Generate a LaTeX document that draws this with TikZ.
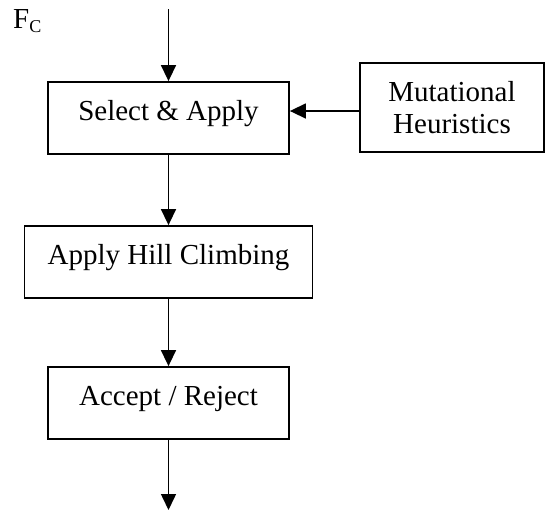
\documentclass[tikz,border=0pt]{standalone}
\usepackage{fontspec}
\setmainfont{Liberation Serif}
\usetikzlibrary{arrows.meta}

\begin{document}
\begin{tikzpicture}[x=1pt, y=-1pt,
  every node/.style={font=\fontsize{29pt}{32pt}\selectfont},
  stagebox/.style={draw, line width=1.8pt, inner sep=0pt, minimum height=72pt},
  oneline/.style={text height=20pt, text depth=15pt},
  flow/.style={line width=1.5pt, -{Triangle[length=16pt, width=15pt]}}
]
  \useasboundingbox (0,0) rectangle (545,512);

  % process stages
  \node[stagebox, oneline, minimum width=241pt] (sel)  at (168.5,118) {Select \& Apply};
  \node[stagebox, oneline, minimum width=288pt] (hill) at (168.5,262) {Apply Hill Climbing};
  \node[stagebox, oneline, minimum width=241pt] (acc)  at (168.5,403) {Accept / Reject};
  \node[stagebox, minimum width=184pt, minimum height=89pt, align=center] (mut) at (452,107.5)
       {Mutational\\Heuristics};

  % input label
  \node[anchor=base west, inner sep=0pt] (fc) at (13,28)
       {F\raisebox{-4pt}{\fontsize{18pt}{18pt}\selectfont C}};

  % free ends of the main flow
  \coordinate (in)  at (168.5,9);
  \coordinate (out) at (168.5,510);

  % connectors
  \draw[flow] (in) -- (sel.north);
  \draw[flow] (sel.south) -- (hill.north);
  \draw[flow] (hill.south) -- (acc.north);
  \draw[flow] (acc.south) -- (out);
  \draw[flow] ([yshift=-3.5pt]mut.west) -- ([yshift=-3.5pt]mut.west -| sel.east);
\end{tikzpicture}
\end{document}
